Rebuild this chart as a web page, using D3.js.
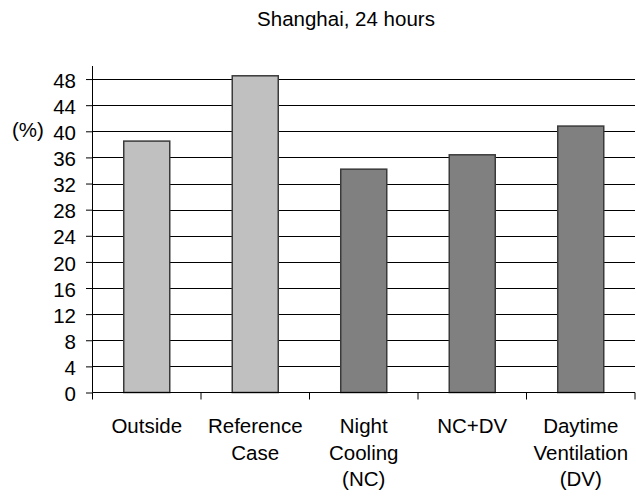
<!DOCTYPE html>
<html>
<head>
<meta charset="utf-8">
<script src="https://cdn.jsdelivr.net/npm/d3@7"></script>
<style>
  html, body { margin: 0; padding: 0; background: #fff; }
  svg { display: block; font-family: "Liberation Sans", Arial, sans-serif; }
</style>
</head>
<body>
<svg id="chart" width="636" height="498"></svg>
<script>
const title = "Shanghai, 24 hours";
const yLabel = "(%)";
const categories = ["Outside", "Reference Case", "Night Cooling (NC)", "NC+DV", "Daytime Ventilation (DV)"];
const categoryLines = [["Outside"], ["Reference", "Case"], ["Night", "Cooling", "(NC)"], ["NC+DV"], ["Daytime", "Ventilation", "(DV)"]];
const values = [38.5, 48.5, 34.2, 36.4, 40.8];
const barGroup = ["light", "light", "dark", "dark", "dark"];
const yTicks = [0, 4, 8, 12, 16, 20, 24, 28, 32, 36, 40, 44, 48];
const yMax = 50;

const svg = d3.select("#chart");
const plotLeft = 92.5, plotRight = 635, plotTop = 66, plotBottom = 392.5;
const fontSize = 20.5;

const x = d3.scaleBand().domain(categories).range([plotLeft, plotRight])
  .paddingInner(0.576).paddingOuter(0.288);
const y = d3.scaleLinear().domain([0, yMax]).range([plotBottom, plotTop]);
const step = x.step();
const color = { light: "#c0c0c0", dark: "#808080" };

// gridlines
svg.append("g").selectAll("line").data(yTicks.filter(d => d > 0)).join("line")
  .attr("x1", plotLeft).attr("x2", plotRight)
  .attr("y1", d => Math.round(y(d)) + 0.5).attr("y2", d => Math.round(y(d)) + 0.5)
  .attr("stroke", "#000").attr("stroke-width", 1);

// bars
svg.append("g").selectAll("rect").data(categories).join("rect")
  .attr("x", d => x(d))
  .attr("y", (d, i) => y(values[i]))
  .attr("width", x.bandwidth())
  .attr("height", (d, i) => y(0) - y(values[i]))
  .attr("fill", (d, i) => color[barGroup[i]])
  .attr("stroke", "#3a3a3a").attr("stroke-width", 1.5);

// y axis
const yAxis = d3.axisLeft(y).tickValues(yTicks).tickSize(6.5).tickSizeOuter(0).tickPadding(10).tickFormat(d3.format("d"));
const gy = svg.append("g").attr("transform", `translate(${plotLeft},0)`).call(yAxis);
gy.select(".domain").remove();
gy.selectAll(".tick line").attr("stroke", "#000");
gy.selectAll(".tick text").attr("font-size", fontSize).attr("font-family", "Liberation Sans, Arial, sans-serif").attr("fill", "#000").attr("dy", "0.4em");
svg.append("line").attr("x1", plotLeft).attr("x2", plotLeft).attr("y1", plotTop).attr("y2", plotBottom)
  .attr("stroke", "#000").attr("stroke-width", 1);

// x axis baseline and ticks at category boundaries
svg.append("line").attr("x1", plotLeft).attr("x2", plotRight).attr("y1", plotBottom).attr("y2", plotBottom)
  .attr("stroke", "#000").attr("stroke-width", 1);
const boundaries = [x(categories[0]) + x.bandwidth() / 2 - step / 2]
  .concat(categories.map(c => x(c) + x.bandwidth() / 2 + step / 2));
svg.append("g").selectAll("line").data(boundaries).join("line")
  .attr("x1", d => d).attr("x2", d => d)
  .attr("y1", plotBottom).attr("y2", plotBottom + 7)
  .attr("stroke", "#000");

// category labels
const labels = svg.append("g").attr("font-size", fontSize).attr("text-anchor", "middle").attr("fill", "#000");
categories.forEach((c, i) => {
  const cx = x(c) + x.bandwidth() / 2;
  const t = labels.append("text").attr("x", cx).attr("y", 433);
  categoryLines[i].forEach((line, j) => {
    t.append("tspan").attr("x", cx).attr("dy", j === 0 ? 0 : 26.5).text(line);
  });
});

// y label
svg.append("text").attr("x", 12).attr("y", 137).attr("font-size", fontSize).attr("fill", "#000").text(yLabel);

// title
svg.append("text").attr("x", 346).attr("y", 26).attr("text-anchor", "middle")
  .attr("font-size", fontSize).attr("fill", "#000").text(title);
</script>
</body>
</html>
